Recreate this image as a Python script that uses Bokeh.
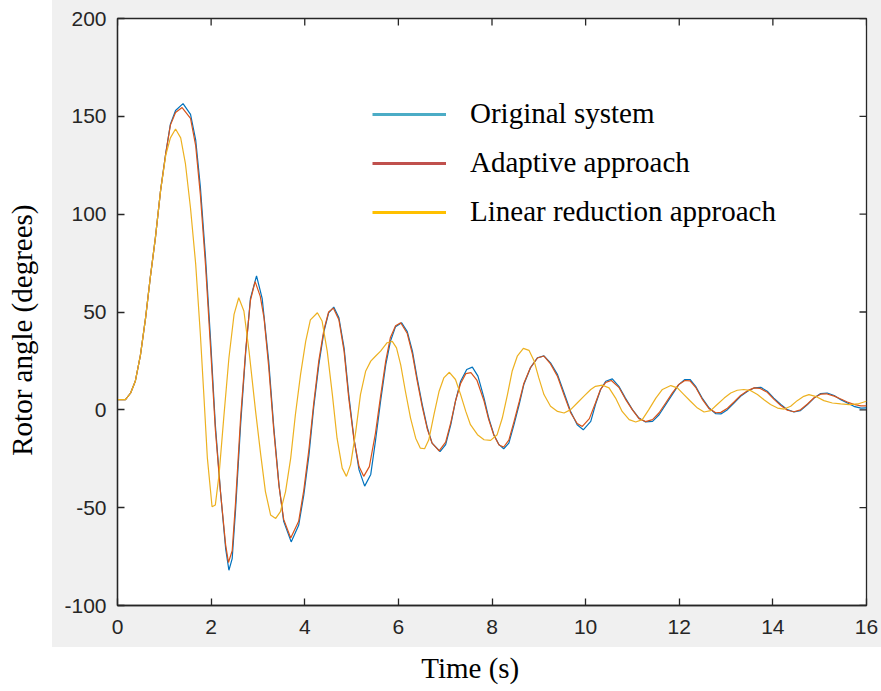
from bokeh.plotting import figure
from bokeh.models import Range1d, FixedTicker, Legend, LegendItem
from bokeh.embed import file_html
from bokeh.resources import INLINE

# ---------------- data ----------------
x_ticks = [0, 2, 4, 6, 8, 10, 12, 14, 16]
x_tick_labels = ["0", "2", "4", "6", "8", "10", "12", "14", "16"]
y_ticks = [-100, -50, 0, 50, 100, 150, 200]
y_tick_labels = ["-100", "-50", "0", "50", "100", "150", "200"]

x_title = "Time (s)"
y_title = "Rotor angle (degrees)"
series_names = ["Original system", "Adaptive approach", "Linear reduction approach"]

t_orig = [0.00, 0.17, 0.28, 0.38, 0.49, 0.60, 0.70, 0.81, 0.92, 1.03,
          1.13, 1.24, 1.40, 1.56, 1.67, 1.77, 1.88, 1.99, 2.09, 2.20,
          2.31, 2.38, 2.45, 2.52, 2.63, 2.74, 2.84, 2.97, 3.09, 3.23,
          3.34, 3.45, 3.55, 3.71, 3.87, 3.98, 4.09, 4.19, 4.30, 4.41,
          4.51, 4.62, 4.73, 4.84, 4.94, 5.05, 5.16, 5.28, 5.41, 5.51,
          5.62, 5.73, 5.83, 5.94, 6.07, 6.19, 6.30, 6.40, 6.51, 6.62,
          6.72, 6.89, 7.01, 7.12, 7.22, 7.33, 7.46, 7.58, 7.70, 7.83,
          7.93, 8.04, 8.15, 8.25, 8.36, 8.47, 8.58, 8.68, 8.82, 8.97,
          9.11, 9.25, 9.40, 9.54, 9.68, 9.82, 9.95, 10.11, 10.21, 10.32,
          10.43, 10.57, 10.71, 10.85, 11.00, 11.14, 11.28, 11.43, 11.57, 11.71,
          11.85, 11.99, 12.12, 12.23, 12.35, 12.49, 12.64, 12.78, 12.89, 13.03,
          13.17, 13.31, 13.46, 13.60, 13.74, 13.88, 14.02, 14.17, 14.31, 14.45,
          14.59, 14.74, 14.88, 15.02, 15.16, 15.31, 15.45, 15.59, 15.73, 15.88,
          16.00]
y_orig = [5.2, 5.2, 8.6, 14.6, 28.0, 47.0, 67.6, 88.0, 112.0, 131.0,
          146.0, 153.0, 156.5, 151.0, 138.0, 114.0, 78.0, 35.0, -7.6, -41.8,
          -70.9, -82.0, -76.0, -52.0, -7.6, 30.0, 57.0, 68.5, 57.0, 24.9,
          -9.3, -38.4, -57.0, -67.5, -59.0, -43.5, -23.0, 1.0, 23.0, 40.0,
          49.6, 52.5, 47.0, 31.7, 7.8, -14.4, -30.7, -39.0, -33.0, -16.0,
          4.4, 23.0, 35.0, 42.5, 44.5, 40.0, 30.0, 16.3, 2.7, -9.3,
          -17.0, -21.3, -17.8, -7.6, 4.4, 14.6, 20.6, 21.8, 17.2, 6.0,
          -4.2, -12.7, -17.8, -19.9, -17.0, -7.6, 2.7, 12.9, 21.4, 26.6,
          27.6, 24.0, 18.0, 8.6, -0.8, -7.6, -10.2, -5.9, 2.7, 10.4,
          14.6, 15.8, 12.0, 6.0, 0.1, -4.2, -6.2, -5.9, -2.5, 2.7,
          7.8, 12.9, 15.5, 15.5, 12.0, 6.0, 0.9, -2.0, -2.1, 0.1,
          3.5, 6.9, 9.5, 11.2, 11.5, 9.5, 6.0, 2.7, 0.1, -1.1,
          -0.4, 2.7, 6.0, 8.3, 8.6, 7.3, 5.2, 3.5, 1.8, 0.9,
          1.0]

t_adapt = [0.00, 0.17, 0.28, 0.38, 0.49, 0.60, 0.70, 0.81, 0.92, 1.03,
           1.13, 1.24, 1.38, 1.56, 1.67, 1.77, 1.88, 1.99, 2.09, 2.20,
           2.31, 2.37, 2.45, 2.52, 2.63, 2.74, 2.84, 2.94, 3.05, 3.13,
           3.23, 3.34, 3.45, 3.55, 3.70, 3.87, 3.98, 4.09, 4.19, 4.30,
           4.41, 4.51, 4.61, 4.73, 4.84, 4.94, 5.05, 5.16, 5.26, 5.38,
           5.51, 5.62, 5.73, 5.83, 5.94, 6.05, 6.19, 6.30, 6.40, 6.51,
           6.62, 6.72, 6.87, 7.01, 7.12, 7.22, 7.33, 7.44, 7.55, 7.68,
           7.83, 7.93, 8.04, 8.15, 8.25, 8.36, 8.47, 8.58, 8.68, 8.82,
           8.97, 9.11, 9.25, 9.40, 9.54, 9.68, 9.82, 9.93, 10.08, 10.21,
           10.32, 10.43, 10.55, 10.71, 10.85, 11.00, 11.14, 11.28, 11.43, 11.57,
           11.71, 11.85, 11.99, 12.12, 12.23, 12.35, 12.49, 12.64, 12.78, 12.89,
           13.03, 13.17, 13.31, 13.46, 13.60, 13.72, 13.88, 14.02, 14.17, 14.31,
           14.45, 14.59, 14.74, 14.88, 15.02, 15.14, 15.31, 15.45, 15.59, 15.73,
           15.88, 16.00]
y_adapt = [5.2, 5.2, 8.6, 14.6, 28.0, 47.0, 67.6, 88.0, 112.0, 131.0,
           145.5, 152.0, 154.5, 149.0, 135.0, 110.0, 74.0, 31.0, -10.0, -42.0,
           -69.0, -78.0, -72.0, -48.0, -4.0, 31.0, 56.0, 65.5, 58.0, 47.0,
           22.0, -11.0, -39.0, -56.0, -65.5, -57.0, -41.0, -20.0, 3.0, 25.0,
           41.0, 50.0, 52.0, 46.0, 30.0, 6.0, -15.0, -29.0, -34.0, -29.0,
           -12.0, 7.0, 25.0, 37.0, 43.0, 44.5, 39.0, 28.5, 15.0, 1.5,
           -10.0, -17.0, -21.0, -16.5, -6.5, 4.5, 13.5, 18.5, 19.0, 15.0,
           4.5, -5.0, -13.0, -18.0, -19.0, -15.5, -6.0, 4.0, 13.5, 21.5,
           26.5, 27.5, 23.5, 17.0, 7.5, -1.5, -7.0, -8.5, -4.5, 3.5,
           10.5, 14.0, 15.0, 11.5, 5.5, 0.0, -4.5, -6.0, -5.0, -1.5,
           3.5, 8.5, 13.0, 15.0, 14.8, 11.5, 5.5, 0.5, -1.5, -1.3,
           0.8, 4.0, 7.3, 9.8, 11.2, 11.0, 9.0, 5.5, 2.2, -0.2,
           -1.0, 0.0, 3.0, 6.2, 8.0, 8.2, 7.0, 5.5, 4.0, 2.8,
           2.0, 2.0]

t_linear = [0.00, 0.17, 0.28, 0.38, 0.49, 0.60, 0.70, 0.81, 0.92, 1.03,
            1.13, 1.24, 1.35, 1.45, 1.56, 1.67, 1.77, 1.84, 1.92, 2.02,
            2.09, 2.17, 2.27, 2.38, 2.49, 2.59, 2.70, 2.81, 2.95, 3.06,
            3.16, 3.27, 3.38, 3.48, 3.59, 3.70, 3.80, 3.91, 4.02, 4.12,
            4.27, 4.37, 4.48, 4.59, 4.69, 4.80, 4.89, 4.98, 5.09, 5.19,
            5.30, 5.41, 5.51, 5.62, 5.76, 5.87, 5.96, 6.05, 6.15, 6.26,
            6.37, 6.47, 6.56, 6.65, 6.76, 6.87, 6.97, 7.09, 7.22, 7.33,
            7.44, 7.54, 7.69, 7.83, 7.97, 8.11, 8.22, 8.33, 8.43, 8.54,
            8.67, 8.79, 8.90, 9.00, 9.11, 9.25, 9.40, 9.54, 9.68, 9.82,
            9.96, 10.11, 10.21, 10.36, 10.50, 10.64, 10.78, 10.93, 11.07, 11.21,
            11.35, 11.50, 11.64, 11.82, 11.96, 12.10, 12.24, 12.39, 12.53, 12.67,
            12.81, 12.96, 13.10, 13.24, 13.38, 13.53, 13.67, 13.81, 13.95, 14.10,
            14.24, 14.38, 14.52, 14.66, 14.77, 14.91, 15.09, 15.27, 15.45, 15.63,
            15.81, 16.00]
y_linear = [5.2, 5.2, 8.6, 14.6, 28.0, 47.0, 67.6, 88.0, 112.0, 130.0,
            139.0, 143.5, 139.0, 126.0, 103.0, 74.5, 38.6, 9.5, -24.7, -49.5,
            -48.6, -33.0, -4.0, 26.5, 48.8, 57.3, 50.5, 30.0, -0.8, -23.0,
            -41.8, -53.7, -55.5, -52.0, -41.8, -24.7, -2.5, 18.0, 35.0, 46.0,
            49.6, 45.4, 30.0, 7.8, -14.5, -29.8, -34.0, -28.0, -11.0, 7.8,
            19.7, 24.9, 27.4, 30.0, 34.3, 35.0, 31.7, 23.0, 9.5, -4.2,
            -14.5, -19.6, -19.9, -15.3, -2.5, 9.5, 16.3, 19.2, 15.5, 7.8,
            -0.8, -7.6, -12.7, -15.3, -15.6, -12.7, -4.2, 7.8, 19.7, 27.4,
            31.4, 30.4, 24.9, 16.3, 7.8, 1.8, -0.8, -1.6, 0.1, 3.5,
            6.9, 10.4, 12.0, 12.6, 11.2, 6.0, -0.8, -5.0, -6.2, -5.0,
            0.1, 6.0, 10.4, 12.4, 11.2, 7.8, 4.4, 0.9, -1.1, -0.4,
            2.7, 6.0, 8.6, 10.0, 10.4, 9.8, 7.8, 5.2, 2.7, 0.9,
            0.4, 1.8, 4.7, 6.9, 7.8, 6.9, 4.7, 3.5, 3.0, 2.7,
            3.0, 4.4]

# ---------------- styling ----------------
line_colors = ["#0072BD", "#D95319", "#EDB120"]
legend_colors = ["#4BACC6", "#C0504D", "#FFC000"]
AX = "#262626"
SERIF = "Liberation Serif"
SANS = "Liberation Sans"
SERIF_SIZE = "29px"

W, H = 881, 691
BL, BR, BT, BB = 117, 15, 18, 86
X0, X1, Y0, Y1 = 0, 16, -100, 200
NBSP = "\u00a0"

p = figure(width=W, height=H, output_backend="svg", toolbar_location=None,
           x_range=Range1d(X0, X1), y_range=Range1d(Y0, Y1),
           min_border_left=BL, min_border_right=BR, min_border_top=BT,
           min_border_bottom=BB,
           # the titles sit off-centre in the reference: pad them at their end
           x_axis_label=x_title + NBSP * 6, y_axis_label=y_title + NBSP * 5)
# transparent border so that the host background (grey MATLAB figure panel
# on a white page) shows; the frame itself stays white
p.border_fill_color = None
p.background_fill_color = "white"
p.styles = {"background": "linear-gradient(#f0f0f0, #f0f0f0) 52px 0px / 829px 647px no-repeat, #ffffff"}
p.grid.visible = False
p.outline_line_color = AX
p.outline_line_width = 1.3

p.xaxis.ticker = FixedTicker(ticks=x_ticks)
p.yaxis.ticker = FixedTicker(ticks=y_ticks)
p.xaxis.major_label_overrides = dict(zip(x_ticks, x_tick_labels))
p.yaxis.major_label_overrides = dict(zip(y_ticks, y_tick_labels))
for ax in (p.xaxis[0], p.yaxis[0]):
    ax.major_tick_in = 7
    ax.major_tick_out = 0
    ax.minor_tick_line_color = None
    ax.axis_line_color = AX
    ax.axis_line_width = 1.3
    ax.major_tick_line_color = AX
    ax.major_tick_line_width = 1.3
    ax.major_label_text_font = SANS
    ax.major_label_text_font_size = "21px"
    ax.major_label_text_color = AX
    ax.axis_label_text_font = SERIF
    ax.axis_label_text_font_size = SERIF_SIZE
    ax.axis_label_text_font_style = "normal"
    ax.axis_label_text_color = "black"
p.xaxis.major_label_standoff = 14
p.yaxis.major_label_standoff = 11
p.xaxis.axis_label_standoff = 15
p.yaxis.axis_label_standoff = 23

# inward ticks on the top and right edges of the box (7 px long)
tick_px = 7
fw, fh = W - BL - BR, H - BT - BB
dy = tick_px * (Y1 - Y0) / fh
dx = tick_px * (X1 - X0) / fw
p.segment(x0=x_ticks, y0=[Y1] * len(x_ticks), x1=x_ticks, y1=[Y1 - dy] * len(x_ticks),
          line_color=AX, line_width=1.3)
p.segment(x0=[X1] * len(y_ticks), y0=y_ticks, x1=[X1 - dx] * len(y_ticks), y1=y_ticks,
          line_color=AX, line_width=1.3)

for t, y, c in ((t_orig, y_orig, line_colors[0]),
                (t_adapt, y_adapt, line_colors[1]),
                (t_linear, y_linear, line_colors[2])):
    p.line(t, y, line_color=c, line_width=1.2)

# legend samples (drawn in the overlay colours of the reference); one NaN point
# so that nothing is drawn in the axes but the legend glyph is painted
nan = float("nan")
leg_r = [p.line(x=[nan], y=[nan], line_color=c, line_width=3) for c in legend_colors]
legend = Legend(items=[LegendItem(label=n, renderers=[r]) for n, r in zip(series_names, leg_r)],
                location=(255, 377), orientation="vertical",
                border_line_alpha=0, background_fill_alpha=0,
                glyph_width=74, glyph_height=26, label_height=26,
                label_standoff=24, spacing=16, padding=0, margin=0,
                label_text_font=SERIF, label_text_font_size=SERIF_SIZE,
                label_text_color="black")
p.add_layout(legend)

open("out.html", "w").write(file_html(p, INLINE))
